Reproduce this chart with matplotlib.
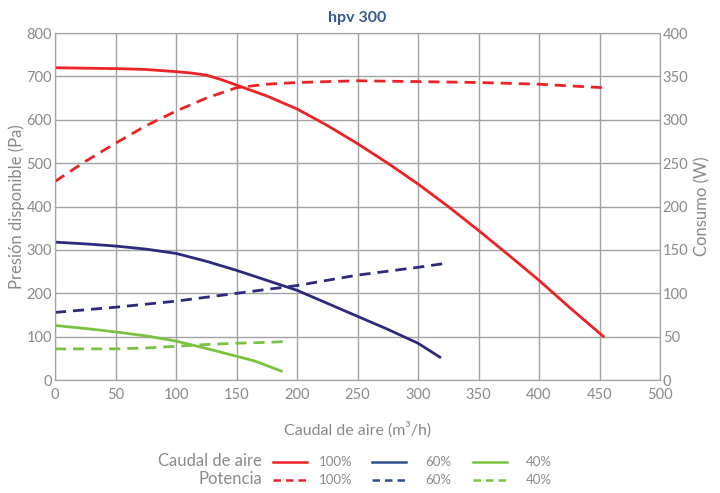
import numpy as np
import matplotlib
matplotlib.use("Agg")
import matplotlib.pyplot as plt
from matplotlib.lines import Line2D

plt.rcParams['font.family'] = ['Lato', 'DejaVu Sans']

# Data
# presion disponible (Pa) vs caudal (m3/h)
q100 = [0, 25, 50, 75, 100, 112, 125, 137, 150, 175, 200, 225, 250, 275, 300, 325, 350, 375, 400, 425, 453]
p100 = [720, 719, 718, 716, 711, 708, 703, 693, 680, 655, 625, 587, 545, 500, 452, 400, 345, 288, 230, 168, 101]
q60 = [0, 25, 50, 75, 100, 125, 150, 175, 200, 225, 250, 275, 300, 318]
p60 = [318, 314, 309, 302, 292, 274, 253, 230, 207, 177, 147, 117, 85, 53]
q40 = [0, 25, 50, 75, 100, 125, 150, 165, 187]
p40 = [126, 119, 111, 102, 90, 73, 55, 44, 21]

# consumo (W) vs caudal (m3/h)
qw100 = [0, 25, 50, 75, 100, 125, 150, 175, 200, 250, 300, 350, 400, 453]
w100 = [229, 252, 273, 293, 310, 325, 337, 341, 343, 345, 344, 343, 341, 337]
qw60 = [0, 50, 100, 150, 200, 250, 300, 320]
w60 = [78, 84, 91, 100, 109, 121, 130, 134]
qw40 = [0, 50, 75, 100, 125, 150, 175, 192]
w40 = [36, 36, 37, 39, 41, 42.5, 43.5, 44.5]

RED = '#ec2227'
NAVY = '#2b2a7c'
GREEN = '#7cc242'
GRAY = '#8a8a8a'
GRID = '#a3a3a3'

fig = plt.figure(figsize=(7.2, 4.93), dpi=100)
ax = fig.add_axes([0.0764, 0.229, 0.8403, 0.704])
ax2 = ax.twinx()

ax.plot(q100, p100, color=RED, lw=2)
ax.plot(q60, p60, color=NAVY, lw=2)
ax.plot(q40, p40, color=GREEN, lw=2)
ax2.plot(qw100, w100, color=RED, lw=2, ls=(0, (4, 2.5)))
ax2.plot(qw60, w60, color=NAVY, lw=2, ls=(0, (4, 2.5)))
ax2.plot(qw40, w40, color=GREEN, lw=2, ls=(0, (4, 2.5)))

ax.set_xlim(0, 500)
ax.set_ylim(0, 800)
ax2.set_ylim(0, 400)
ax.set_xticks(np.arange(0, 501, 50))
ax.set_yticks(np.arange(0, 801, 100))
ax2.set_yticks(np.arange(0, 401, 50))
ax.grid(True, color=GRID, lw=1)
ax.set_axisbelow(True)

for a in (ax, ax2):
    a.tick_params(length=0, colors=GRAY, labelsize=10.5, pad=2)
    for s in a.spines.values():
        s.set_color(GRID)
ax.tick_params(axis='x', pad=6)

ax.set_xlabel('Caudal de aire (m³/h)', color=GRAY, fontsize=11.5, labelpad=14)
ax.set_ylabel('Presión disponible (Pa)', color=GRAY, fontsize=12, labelpad=1)
ax2.set_ylabel('Consumo (W)', color=GRAY, fontsize=12, labelpad=4)
ax.set_title('hpv 300', color='#3a5a8c', fontsize=11.5, fontweight='bold', pad=8)

# Custom legend below the chart
rows = [('Caudal de aire', '-', 461), ('Potencia', (0, (3, 2)), 479)]
cols = [(RED, '100%', 273), ('#2f4f8f', '60%', 372), (GREEN, '40%', 473)]
W, H = 720, 493
for label, ls, y in rows:
    fig.text(262 / W, 1 - y / H, label, ha='right', va='center', color=GRAY, fontsize=12)
    for c, pct, x0 in cols:
        fig.lines.append(Line2D([x0 / W, (x0 + 34) / W], [1 - (y + 1) / H] * 2,
                                color=c, lw=1.8, ls=ls, transform=fig.transFigure))
        fig.text((x0 + 79) / W, 1 - (y + 1) / H, pct, ha='right', va='center',
                 color=GRAY, fontsize=9.5)

fig.savefig('out.png', dpi=100)
